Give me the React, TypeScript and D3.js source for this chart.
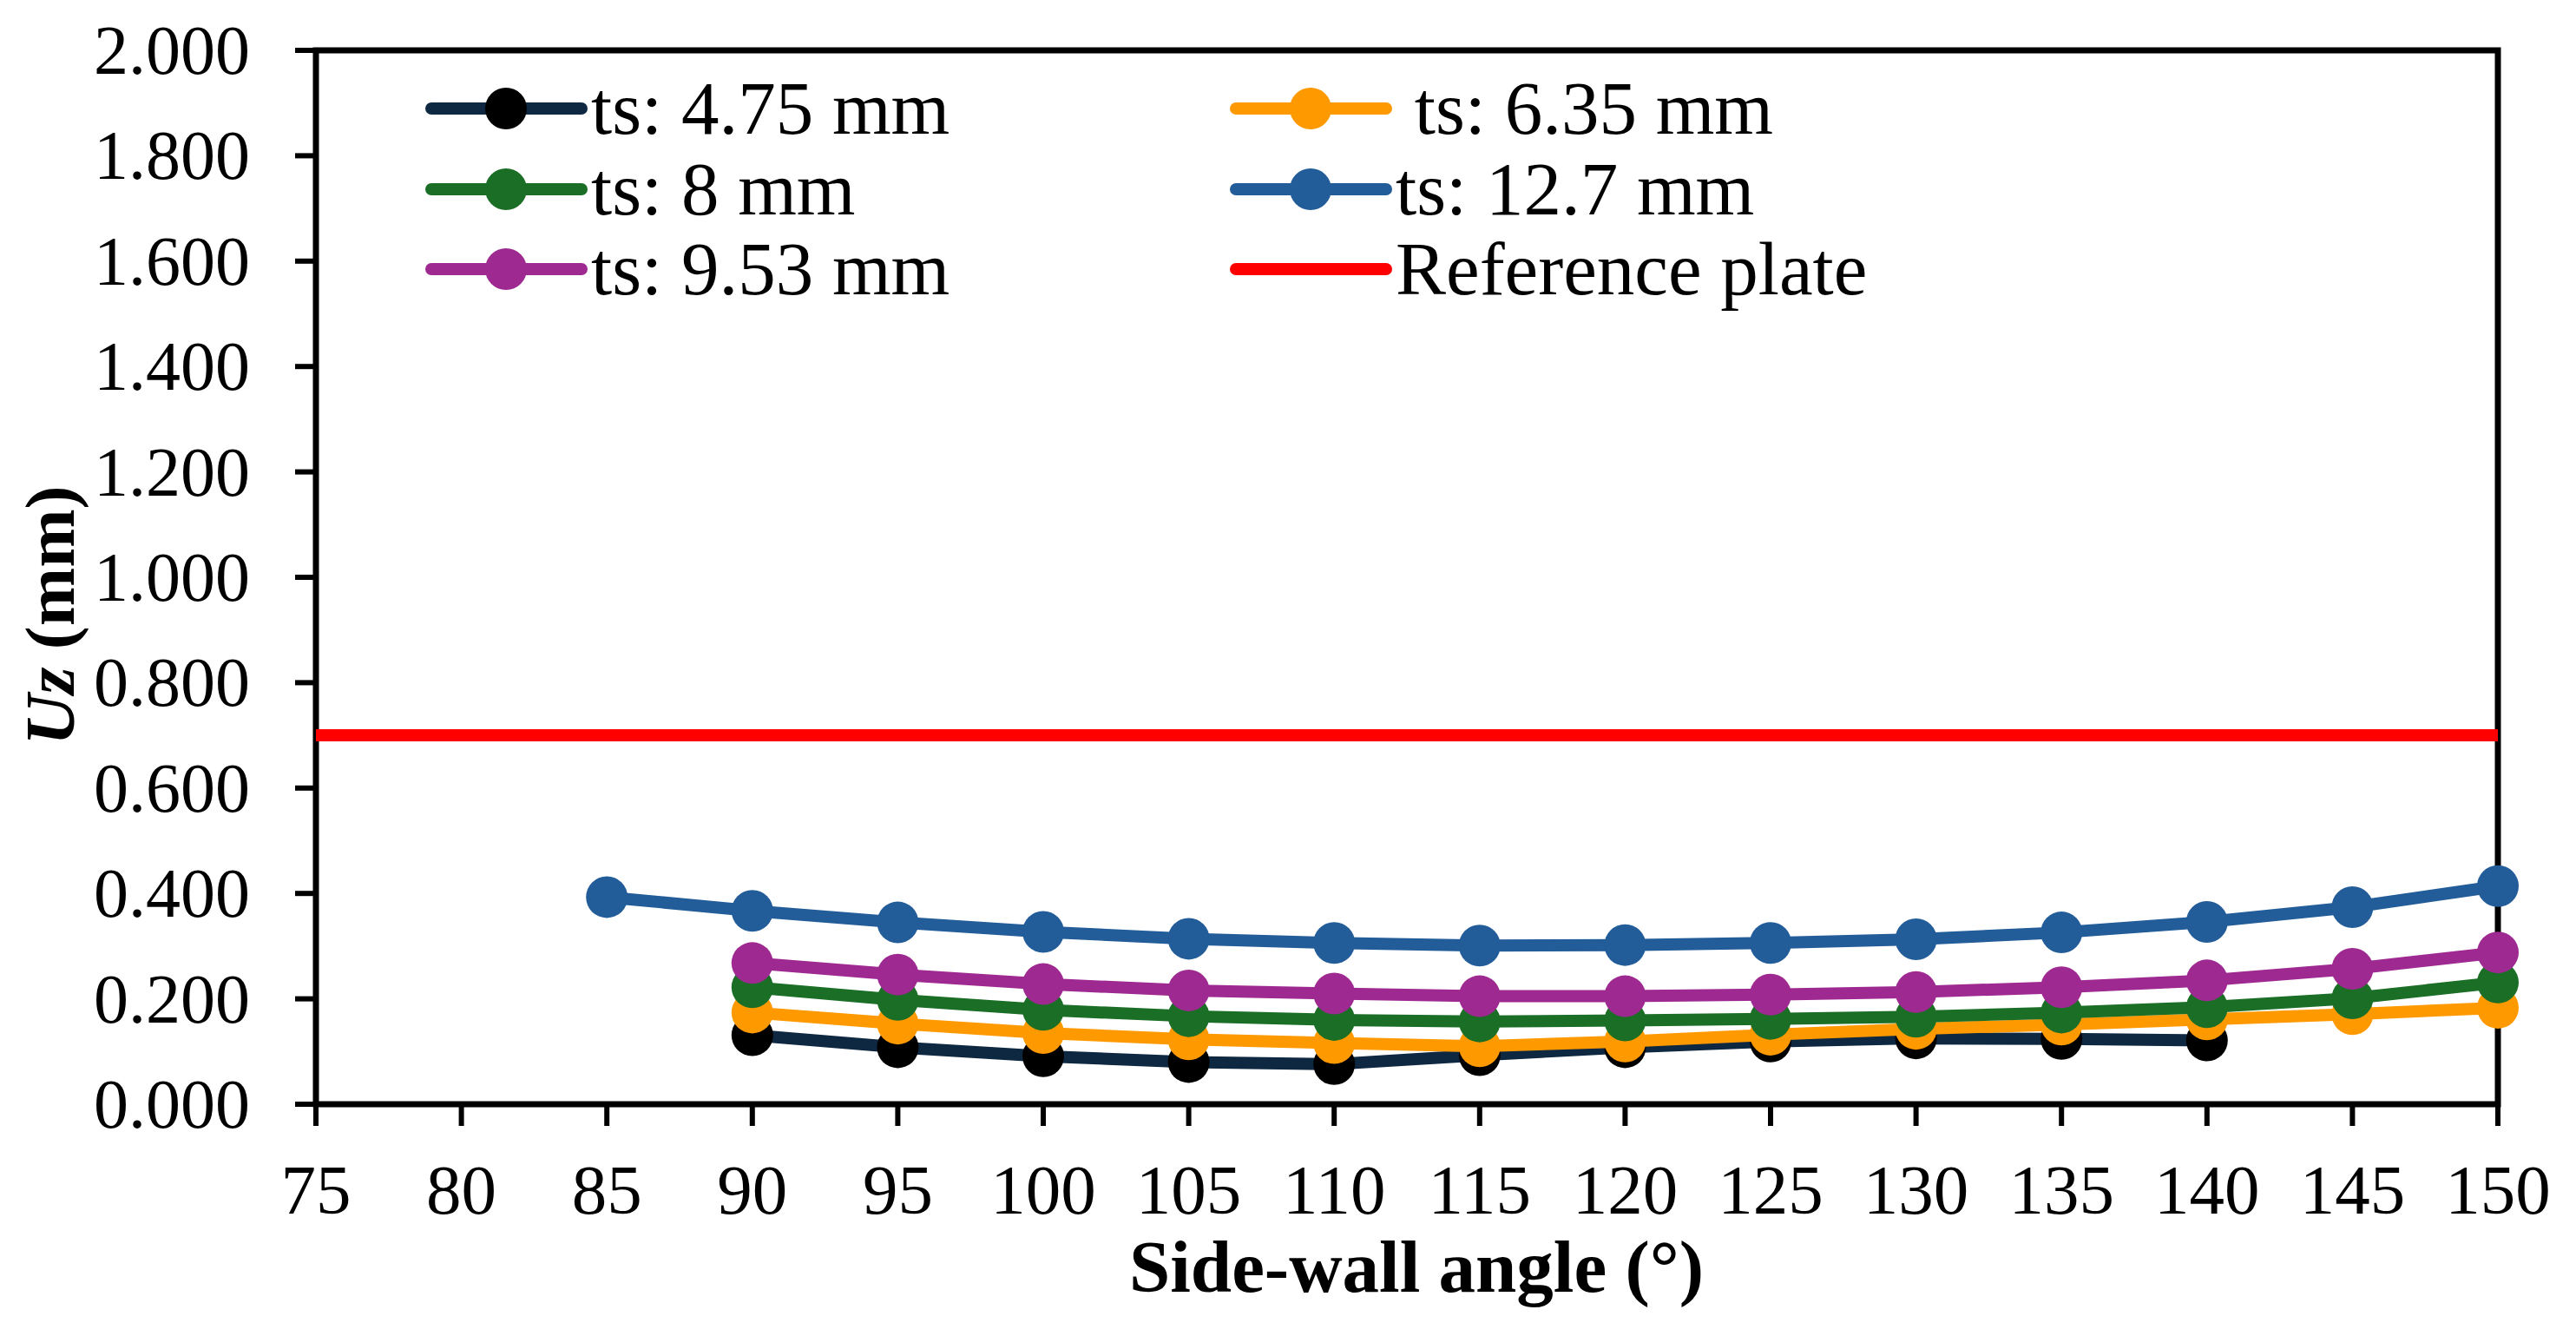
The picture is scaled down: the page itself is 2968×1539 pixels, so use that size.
import React from "react";
import * as d3 from "d3";

const xTicks = [75, 80, 85, 90, 95, 100, 105, 110, 115, 120, 125, 130, 135, 140, 145, 150];
const yTicks = [0, 0.2, 0.4, 0.6, 0.8, 1.0, 1.2, 1.4, 1.6, 1.8, 2.0];

const angles90to140 = [90, 95, 100, 105, 110, 115, 120, 125, 130, 135, 140];
const angles90to150 = [90, 95, 100, 105, 110, 115, 120, 125, 130, 135, 140, 145, 150];
const angles85to150 = [85, 90, 95, 100, 105, 110, 115, 120, 125, 130, 135, 140, 145, 150];

const ts475 = [0.131, 0.108, 0.091, 0.080, 0.076, 0.093, 0.108, 0.119, 0.125, 0.124, 0.121];
const ts635 = [0.174, 0.153, 0.135, 0.123, 0.116, 0.110, 0.119, 0.132, 0.143, 0.151, 0.161, 0.171, 0.183];
const ts8 = [0.222, 0.198, 0.179, 0.167, 0.160, 0.157, 0.159, 0.162, 0.166, 0.174, 0.184, 0.201, 0.231];
const ts127 = [0.393, 0.367, 0.345, 0.327, 0.314, 0.306, 0.301, 0.302, 0.306, 0.313, 0.326, 0.346, 0.374, 0.414];
const ts953 = [0.268, 0.246, 0.228, 0.216, 0.210, 0.205, 0.205, 0.208, 0.213, 0.222, 0.235, 0.257, 0.288];
const referencePlate = 0.7;

type Series = { name: string; xs: number[]; ys: number[]; line: string; marker: string };

const series: Series[] = [
  { name: "ts: 4.75 mm", xs: angles90to140, ys: ts475, line: "#0e2841", marker: "#000000" },
  { name: " ts: 6.35 mm", xs: angles90to150, ys: ts635, line: "#ff9900", marker: "#ff9900" },
  { name: "ts: 8 mm", xs: angles90to150, ys: ts8, line: "#1b6e26", marker: "#1b6e26" },
  { name: "ts: 12.7 mm", xs: angles85to150, ys: ts127, line: "#235d99", marker: "#235d99" },
  { name: "ts: 9.53 mm", xs: angles90to150, ys: ts953, line: "#9e2a91", marker: "#9e2a91" },
];

const W = 2968;
const H = 1539;
const left = 364;
const right = 2878;
const top = 58;
const bottom = 1272;
const FONT = "'Liberation Serif', 'Times New Roman', serif";

export default function App() {
  const x = d3.scaleLinear().domain([75, 150]).range([left, right]);
  const y = d3.scaleLinear().domain([0, 2]).range([bottom, top]);
  const lineGen = d3
    .line<[number, number]>()
    .x((d) => x(d[0]))
    .y((d) => y(d[1]));

  const legendCols = [497, 1424];
  const legendRows = [125, 218, 310];
  const legendItems = [
    ...series.map((s) => ({ name: s.name, line: s.line, marker: s.marker as string | null })),
    { name: "Reference plate", line: "#ff0000", marker: null as string | null },
  ];

  return (
    <svg
      width={W}
      height={H}
      style={{ position: "absolute", left: 0, top: 0, background: "#fff" }}
      fontFamily={FONT}
    >
      <rect x={0} y={0} width={W} height={H} fill="#fff" />
      {/* y ticks */}
      {yTicks.map((t) => (
        <g key={"y" + t}>
          <line x1={left - 24} x2={left} y1={y(t)} y2={y(t)} stroke="#000" strokeWidth={6} />
          <text x={288} y={y(t) + 27} fontSize={80} textAnchor="end" fill="#000">
            {d3.format(".3f")(t)}
          </text>
        </g>
      ))}
      {/* x ticks */}
      {xTicks.map((t) => (
        <g key={"x" + t}>
          <line x1={x(t)} x2={x(t)} y1={bottom} y2={bottom + 25} stroke="#000" strokeWidth={6} />
          <text x={x(t)} y={1398} fontSize={81} textAnchor="middle" fill="#000">
            {t}
          </text>
        </g>
      ))}
      {/* plot border */}
      <rect x={left} y={top} width={right - left} height={bottom - top} fill="none" stroke="#000" strokeWidth={7} />

      {/* series */}
      {series.map((s) => {
        const pts: [number, number][] = s.xs.map((a, i) => [a, s.ys[i]]);
        return (
          <g key={s.name}>
            <path d={lineGen(pts) || ""} fill="none" stroke={s.line} strokeWidth={14} strokeLinejoin="round" strokeLinecap="round" />
            {pts.map((p, i) => (
              <circle key={i} cx={x(p[0])} cy={y(p[1])} r={24} fill={s.marker} />
            ))}
          </g>
        );
      })}
      {/* reference plate */}
      <line x1={left} x2={right} y1={y(referencePlate)} y2={y(referencePlate)} stroke="#ff0000" strokeWidth={14} />

      {/* legend */}
      {legendItems.map((it, i) => {
        const cx0 = legendCols[i % 2];
        const cy = legendRows[Math.floor(i / 2)];
        return (
          <g key={"lg" + i}>
            <line x1={cx0} x2={cx0 + 173} y1={cy} y2={cy} stroke={it.line} strokeWidth={14} strokeLinecap="round" />
            {it.marker && <circle cx={cx0 + 86} cy={cy} r={24} fill={it.marker} />}
            <text x={cx0 + 184} y={cy + 29} fontSize={87} fill="#000" style={{ whiteSpace: "pre" }}>
              {it.name}
            </text>
          </g>
        );
      })}

      {/* axis titles */}
      <text x={1632} y={1488} fontSize={85} fontWeight="bold" textAnchor="middle" fill="#000">
        Side-wall angle (°)
      </text>
      <text
        transform={`translate(85, 709) rotate(-90)`}
        fontSize={81}
        fontWeight="bold"
        textAnchor="middle"
        fill="#000"
      >
        <tspan fontStyle="italic">Uz</tspan>
        <tspan> (mm)</tspan>
      </text>
    </svg>
  );
}
